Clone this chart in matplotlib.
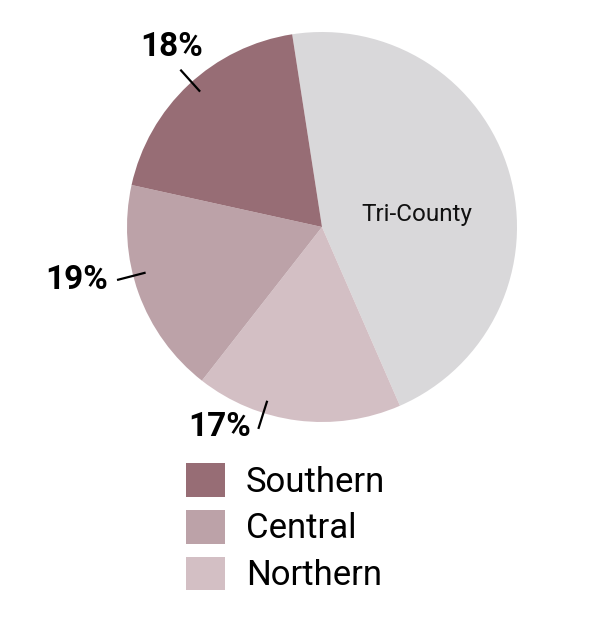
import numpy as np
import matplotlib.pyplot as plt
from matplotlib import font_manager

# slices in drawing order (clockwise from the top)
regions = ['Tri-County', 'Northern', 'Central', 'Southern']
shares = [45.9, 17.1, 17.9, 19.1]
colors = ['#d9d8da', '#d3bfc4', '#bca2a8', '#976d75']
pct_labels = {'Northern': '17%', 'Central': '19%', 'Southern': '18%'}

legend_order = ['Southern', 'Central', 'Northern']

names = [f.name for f in font_manager.fontManager.ttflist]
family = ['Liberation Sans Narrow'] if 'Liberation Sans Narrow' in names else ['Roboto']
plt.rcParams['font.family'] = family + ['DejaVu Sans']

W, H = 604, 622
fig = plt.figure(figsize=(W / 100, H / 100), dpi=100)
ax = fig.add_axes([0, 0, 1, 1])

cx, cy, r = 322, H - 227, 195
wedges, _ = ax.pie(shares, colors=colors, startangle=98.8, counterclock=False,
                   center=(cx, cy), radius=r, frame=True,
                   wedgeprops=dict(linewidth=0))
ax.set_xlim(0, W)
ax.set_ylim(0, H)
ax.set_aspect('equal')
ax.axis('off')

ax.text(417, H - 214, 'Tri-County', fontsize=17.5, ha='center', va='center', color='#111111')

# leader lines and labels
label_pos = {'Southern': (132, 172, 47), 'Central': (194.5, 77, 280), 'Northern': (252.5, 220, 427)}
for name, (ang, tx, ty) in label_pos.items():
    a = np.deg2rad(ang)
    r1, r2 = 0.94 * r, 1.08 * r
    ax.plot([cx + r1 * np.cos(a), cx + r2 * np.cos(a)],
            [cy + r1 * np.sin(a), cy + r2 * np.sin(a)], color='black', lw=1.6)
    ax.text(tx, H - ty, pct_labels[name], fontsize=24, fontweight='bold',
            ha='center', va='center', color='black')

handles = [wedges[regions.index(n)] for n in legend_order]
leg = ax.legend(handles, legend_order, loc='upper left',
                bbox_to_anchor=(186 / W, 1 - 463 / H), frameon=False,
                fontsize=25, handlelength=1.12, handleheight=1.12,
                handletextpad=0.6, labelspacing=0.32, borderpad=0, borderaxespad=0)

fig.savefig('out.png', dpi=100)
